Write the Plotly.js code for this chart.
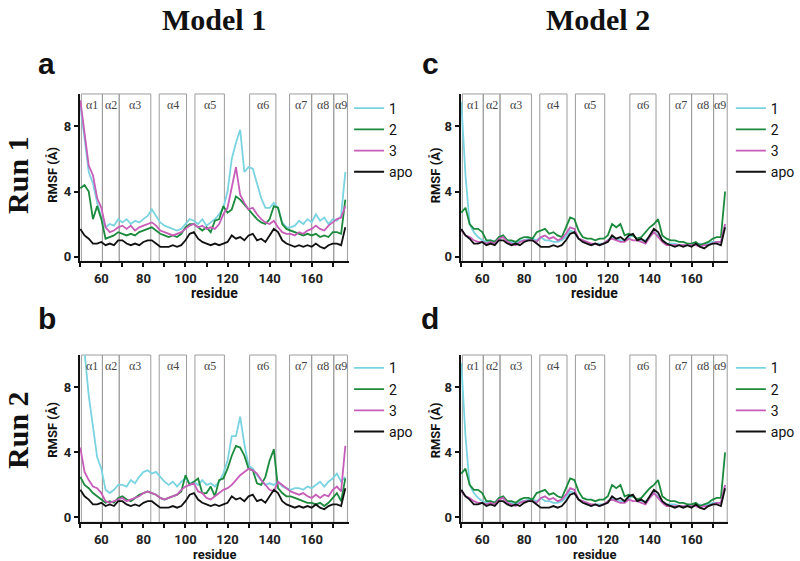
<!DOCTYPE html>
<html>
<head>
<meta charset="utf-8">
<script src="https://cdn.plot.ly/plotly-3.0.1.min.js"></script>
<style>
  body { margin: 0; background: #fff; }
  #chart { width: 800px; height: 561px; }
</style>
</head>
<body>
<div id="chart"></div>
<script>
// residue numbers (every second residue)
var residues = [50,52,54,56,58,60,62,64,66,68,70,72,74,76,78,80,82,84,86,88,90,92,94,96,98,100,
  102,104,106,108,110,112,114,116,118,120,122,124,126,128,130,132,134,136,138,140,142,144,146,148,
  150,152,154,156,158,160,162,164,166,168,170,172,174,176];

// apo RMSF, same in every panel
var apo = [1.7,1.3,1.1,0.8,0.8,0.9,0.7,0.8,0.7,1.0,1.0,0.8,0.7,0.8,0.7,0.9,1.0,1.0,0.8,0.6,0.6,0.6,0.7,0.6,0.7,1.0,
  1.4,1.5,1.1,0.9,0.8,0.7,0.8,0.7,0.8,0.9,1.3,1.1,1.2,1.0,1.3,1.4,1.0,1.1,0.9,1.3,1.7,1.5,1.0,0.8,
  0.7,0.6,0.7,0.6,0.7,0.6,0.8,0.6,0.5,0.7,0.8,0.8,0.7,1.8];

// Model 1, Run 1 (a)
var m1r1_1 = [9.3,7.2,5.2,4.5,3.3,2.4,1.8,2.0,1.9,2.3,2.1,2.3,2.0,2.2,2.1,2.3,2.5,2.9,2.5,2.1,1.9,1.8,1.7,1.6,1.7,2.0,
  2.3,2.2,2.0,2.3,1.9,2.1,2.3,2.6,3.0,4.0,6.0,7.0,7.8,5.2,5.5,5.4,4.5,3.6,3.0,3.0,3.3,3.0,2.1,1.8,
  1.8,1.9,2.2,2.0,2.3,2.1,2.6,2.2,2.4,2.0,2.3,2.2,2.5,5.2];
var m1r1_2 = [4.2,4.4,4.0,2.3,3.1,2.3,1.1,1.2,1.3,1.5,1.4,1.3,1.4,1.3,1.5,1.6,1.7,1.8,1.6,1.4,1.3,1.2,1.3,1.2,1.4,1.8,
  2.0,2.0,1.8,1.6,1.8,1.5,2.2,2.3,3.1,2.7,2.9,3.7,3.5,3.2,2.9,2.6,2.3,2.1,2.0,2.3,3.1,3.0,2.0,1.7,
  1.6,1.5,1.4,1.3,1.4,1.3,1.4,1.2,1.3,1.2,1.5,1.5,1.4,3.5];
var m1r1_3 = [9.6,7.5,5.6,5.0,3.6,3.0,1.8,1.5,1.6,1.8,1.9,1.7,1.9,1.6,1.8,1.9,2.0,2.1,1.9,1.6,1.5,1.4,1.3,1.4,1.5,1.7,
  1.9,2.0,1.8,1.9,1.7,1.8,1.7,2.0,2.6,3.0,4.2,5.5,3.8,3.3,2.9,3.0,2.6,2.3,2.1,2.0,2.2,1.8,1.5,1.4,
  1.4,1.3,1.5,1.4,1.6,1.7,1.9,1.7,1.6,1.9,2.1,2.3,2.4,3.1];

// Model 1, Run 2 (b)
var m1r2_1 = [11.0,10.2,7.5,5.5,3.7,3.0,1.7,1.5,1.7,2.0,2.0,1.9,2.3,2.1,2.5,2.8,2.9,2.7,2.8,2.5,2.2,2.0,2.2,1.9,2.2,2.4,
  2.1,2.2,2.0,2.3,2.0,2.1,1.9,2.2,2.7,3.5,5.0,5.0,6.2,4.5,3.2,3.0,2.6,2.3,2.0,2.1,2.0,2.2,1.9,1.8,
  1.7,1.8,1.8,1.7,1.9,1.8,2.0,2.2,1.9,2.2,2.4,2.7,2.2,2.5];
var m1r2_2 = [2.5,2.0,1.8,1.5,1.3,1.1,0.9,1.0,0.9,1.2,1.3,1.1,1.0,1.2,1.4,1.5,1.6,1.5,1.4,1.2,1.1,1.2,1.3,1.4,1.6,2.6,
  2.0,2.2,2.4,1.5,1.5,1.9,1.3,2.3,2.4,3.0,3.8,4.4,4.3,3.8,3.0,2.9,2.1,2.0,2.5,3.5,4.2,1.8,1.5,1.3,
  1.3,1.2,1.1,1.0,0.9,0.9,0.8,0.9,0.7,0.9,1.2,1.5,1.0,2.4];
var m1r2_3 = [4.3,2.8,2.3,1.9,1.8,1.5,1.0,0.9,1.0,1.1,1.2,1.0,1.1,1.2,1.3,1.5,1.6,1.5,1.4,1.2,1.1,1.2,1.3,1.4,1.7,1.9,
  2.0,2.1,1.6,1.5,1.2,1.1,1.3,1.5,1.7,1.8,2.0,2.3,2.6,2.8,3.0,2.9,2.7,2.3,2.0,1.7,1.6,2.2,2.0,1.8,
  1.6,1.5,1.4,1.5,1.3,1.2,1.4,1.2,1.4,1.3,1.7,1.9,1.6,4.4];

// Model 2 (c and d show the same profiles)
var m2_1 = [9.5,5.0,2.0,1.5,1.2,1.0,0.9,1.0,0.9,1.2,1.2,1.0,0.9,0.8,1.0,1.0,1.1,1.1,1.0,1.2,1.0,1.0,0.9,0.9,1.0,1.2,
  1.6,1.5,1.1,1.0,0.9,0.7,0.8,0.8,0.8,1.0,1.2,1.1,1.0,1.0,1.2,1.3,1.1,1.0,1.0,1.2,1.5,1.3,1.0,0.8,
  0.8,0.8,0.7,0.7,0.7,0.8,0.7,0.8,0.7,0.8,0.9,0.9,0.9,2.0];
var m2_2 = [2.7,3.0,2.0,1.7,1.7,1.5,1.0,1.0,0.9,1.2,1.3,1.0,1.0,0.9,1.1,1.2,1.2,1.1,1.5,1.6,1.7,1.4,1.5,1.3,1.2,1.8,
  2.4,2.3,1.6,1.2,1.1,1.1,1.0,1.1,1.1,1.3,2.0,1.8,2.0,1.3,1.4,1.3,1.1,1.2,1.5,1.8,2.0,2.3,1.3,1.1,
  1.0,1.0,0.9,0.9,0.8,0.8,0.9,0.7,0.8,0.9,1.1,1.2,1.2,4.0];
var m2_3 = [1.6,1.3,1.2,1.0,0.9,0.9,0.8,0.9,0.8,1.1,1.2,0.9,0.8,0.7,0.9,1.0,1.0,1.0,0.9,1.2,1.3,1.1,1.2,1.0,1.1,1.4,
  1.8,1.7,1.1,1.0,0.9,0.8,0.8,0.7,0.8,1.0,1.1,1.0,0.9,0.9,1.1,1.0,1.0,0.9,0.8,1.2,1.5,1.2,0.9,0.7,
  0.7,0.7,0.7,0.7,0.7,0.7,0.7,0.6,0.7,0.7,0.8,0.9,0.9,2.0];

// helix boundaries (residue numbers)
var helixNames = ["α1","α2","α3","α4","α5","α6","α7","α8","α9"];
var helixStart = [50.5,60.5,68.5,87.5,104.5,130.5,149.5,160,170.5];
var helixEnd = [60.5,68.5,83.5,100.5,118.5,143,160,170.5,177];

var seriesNames = ["1","2","3","apo"];
var colors = ["#7ad3e0","#1b8a3c","#c75db8","#111111"];

var panels = [
  {x: "x",  y: "y",  legend: "legend",  data: [m1r1_1, m1r1_2, m1r1_3, apo]},
  {x: "x2", y: "y2", legend: "legend2", data: [m2_1, m2_2, m2_3, apo]},
  {x: "x3", y: "y3", legend: "legend3", data: [m1r2_1, m1r2_2, m1r2_3, apo]},
  {x: "x4", y: "y4", legend: "legend4", data: [m2_1, m2_2, m2_3, apo]}
];

var traces = [];
var shapes = [];
var annotations = [];

panels.forEach(function (p) {
  p.data.forEach(function (vals, i) {
    traces.push({
      x: residues, y: vals, type: "scatter", mode: "lines",
      name: seriesNames[i], xaxis: p.x, yaxis: p.y, legend: p.legend,
      line: {color: colors[i], width: 1.8}
    });
  });
  helixNames.forEach(function (h, j) {
    shapes.push({
      type: "rect", xref: p.x, yref: p.y + " domain",
      x0: helixStart[j], x1: helixEnd[j], y0: 0, y1: 1,
      line: {color: "#9c9c9c", width: 1}, layer: "below"
    });
    annotations.push({
      text: h, xref: p.x, yref: p.y, x: (helixStart[j] + helixEnd[j]) / 2, y: 9.3,
      showarrow: false, font: {family: "Liberation Serif", size: 12, color: "#444"}
    });
  });
});

var tickFont = {family: "Roboto", size: 13, color: "#222", weight: "bold"};
function xAxis(dom, anchor) {
  return {
    domain: dom, anchor: anchor, range: [49.7, 177.6],
    tickvals: [50,60,70,80,90,100,110,120,130,140,150,160,170],
    ticktext: ["","60","","80","","100","","120","","140","","160",""],
    ticks: "outside", ticklen: 4, tickwidth: 2, tickcolor: "#111",
    showline: true, linewidth: 2, linecolor: "#111",
    showgrid: false, zeroline: false, tickfont: tickFont
  };
}
function yAxis(dom, anchor) {
  return {
    domain: dom, anchor: anchor, range: [-0.3, 10],
    tickvals: [0, 4, 8],
    ticks: "outside", ticklen: 4, tickwidth: 2, tickcolor: "#111",
    showline: true, linewidth: 2, linecolor: "#111",
    showgrid: false, zeroline: false, tickfont: tickFont
  };
}

var leftDom = [0.1, 0.4375];
var rightDom = [0.578, 0.914];
var topDom = [0.534, 0.8325];
var botDom = [0.069, 0.3672];

function legendAt(x, y) {
  return {x: x, y: y, xanchor: "left", yanchor: "top", bgcolor: "rgba(0,0,0,0)",
    font: {family: "Roboto", size: 14, color: "#111"}, itemwidth: 30, tracegroupgap: 0};
}

var textBits = [
  {text: "<b>Model 1</b>", x: 215, y: 20, size: 30, family: "Liberation Serif", angle: 0},
  {text: "<b>Model 2</b>", x: 600, y: 20, size: 30, family: "Liberation Serif", angle: 0},
  {text: "<b>Run 1</b>", x: 17, y: 175, size: 30, family: "Liberation Serif", angle: -90},
  {text: "<b>Run 2</b>", x: 17, y: 430, size: 30, family: "Liberation Serif", angle: -90},
  {text: "<b>a</b>", x: 47, y: 63, size: 30, family: "Liberation Sans", angle: 0},
  {text: "<b>c</b>", x: 432, y: 63, size: 30, family: "Liberation Sans", angle: 0},
  {text: "<b>b</b>", x: 47, y: 318, size: 30, family: "Liberation Sans", angle: 0},
  {text: "<b>d</b>", x: 432, y: 318, size: 30, family: "Liberation Sans", angle: 0},
  {text: "<b>RMSF (Å)</b>", x: 52, y: 175, size: 13, family: "Roboto", angle: -90},
  {text: "<b>RMSF (Å)</b>", x: 437, y: 175, size: 13, family: "Roboto", angle: -90},
  {text: "<b>RMSF (Å)</b>", x: 52, y: 430, size: 13, family: "Roboto", angle: -90},
  {text: "<b>RMSF (Å)</b>", x: 437, y: 430, size: 13, family: "Roboto", angle: -90},
  {text: "<b>residue</b>", x: 215, y: 293, size: 14, family: "Roboto", angle: 0},
  {text: "<b>residue</b>", x: 597, y: 293, size: 14, family: "Roboto", angle: 0},
  {text: "<b>residue</b>", x: 215, y: 554, size: 13, family: "Roboto", angle: 0},
  {text: "<b>residue</b>", x: 597, y: 554, size: 13, family: "Roboto", angle: 0}
];
textBits.forEach(function (t) {
  annotations.push({
    text: t.text, xref: "paper", yref: "paper", x: t.x / 800, y: 1 - t.y / 561,
    xanchor: "center", yanchor: "middle", showarrow: false, textangle: t.angle,
    font: {family: t.family, size: t.size, color: "#111"}
  });
});

var layout = {
  width: 800, height: 561,
  margin: {l: 0, r: 0, t: 0, b: 0},
  paper_bgcolor: "#fff", plot_bgcolor: "#fff",
  showlegend: true,
  xaxis: xAxis(leftDom, "y"), yaxis: yAxis(topDom, "x"),
  xaxis2: xAxis(rightDom, "y2"), yaxis2: yAxis(topDom, "x2"),
  xaxis3: xAxis(leftDom, "y3"), yaxis3: yAxis(botDom, "x3"),
  xaxis4: xAxis(rightDom, "y4"), yaxis4: yAxis(botDom, "x4"),
  legend: legendAt(0.438, 0.835),
  legend2: legendAt(0.917, 0.835),
  legend3: legendAt(0.438, 0.372),
  legend4: legendAt(0.917, 0.372),
  shapes: shapes,
  annotations: annotations
};

Plotly.newPlot("chart", traces, layout, {displayModeBar: false, staticPlot: true});
</script>
</body>
</html>
